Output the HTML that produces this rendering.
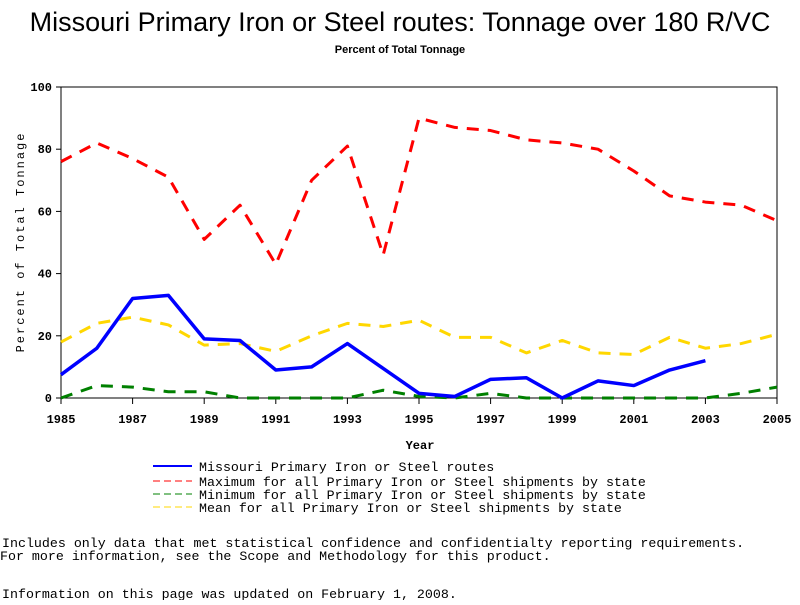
<!DOCTYPE html>
<html><head><meta charset="utf-8"><style>
body{margin:0;background:#fff;width:800px;height:600px;overflow:hidden}
svg text{font-family:"Liberation Mono",monospace}
</style></head><body>
<svg id="c" width="800" height="600" xmlns="http://www.w3.org/2000/svg">
<text x="400" y="31" text-anchor="middle" font-size="27" style="font-family:'Liberation Sans',sans-serif">Missouri Primary Iron or Steel routes: Tonnage over 180 R/VC</text>
<text x="400" y="53" text-anchor="middle" font-size="11" font-weight="bold" style="font-family:'Liberation Sans',sans-serif">Percent of Total Tonnage</text>
<rect x="61" y="87" width="716" height="311" fill="none" stroke="#000"/>
<g id="axes"></g>
<g id="series"></g>
<text x="420" y="449" text-anchor="middle" font-size="12" font-weight="bold">Year</text>
<text transform="translate(24,242) rotate(-90)" text-anchor="middle" font-size="12" letter-spacing="2">Percent of Total Tonnage</text>
<g font-size="13.3">
<g><line x1="153" y1="466" x2="192" y2="466" stroke="#0000ff" stroke-width="2"/><text x="199" y="471">Missouri Primary Iron or Steel routes</text></g>
<g><line x1="153" y1="481" x2="192" y2="481" stroke="#ff0000" stroke-dasharray="7,4"/><text x="199" y="486">Maximum for all Primary Iron or Steel shipments by state</text></g>
<g><line x1="153" y1="494" x2="192" y2="494" stroke="#008000" stroke-dasharray="7,4"/><text x="199" y="499">Minimum for all Primary Iron or Steel shipments by state</text></g>
<g><line x1="153" y1="507" x2="192" y2="507" stroke="#ffd700" stroke-dasharray="7,4"/><text x="199" y="512">Mean for all Primary Iron or Steel shipments by state</text></g>
<text x="2" y="547">Includes only data that met statistical confidence and confidentialty reporting requirements.</text>
<text x="0" y="560">For more information, see the Scope and Methodology for this product.</text>
<text x="2" y="598">Information on this page was updated on February 1, 2008.</text>
</g>
</svg>
<script>
const years=[1985,1986,1987,1988,1989,1990,1991,1992,1993,1994,1995,1996,1997,1998,1999,2000,2001,2002,2003,2004,2005];
const maxVals=[76,82,77,71,51,62,43,70,81,46,90,87,86,83,82,80,73,65,63,62,57];
const meanVals=[18,24,26,23.5,17,17.5,15,20,24,23,25,19.5,19.5,14.5,18.5,14.5,14,19.5,16,17.5,20.5];
const minVals=[0,4,3.5,2,2,0,0,0,0,2.5,0.5,0,1.5,0,0,0,0,0,0,1.5,3.5];
const moVals=[7.5,16,32,33,19,18.5,9,10,17.5,9.5,1.5,0.5,6,6.5,0,5.5,4,9,12,null,null];
const yTicks=[0,20,40,60,80,100];
const xTicks=[1985,1987,1989,1991,1993,1995,1997,1999,2001,2003,2005];
const NS="http://www.w3.org/2000/svg";
const X=y=>61+(y-1985)*716/20, Y=v=>398-v*3.11;
const ax=document.getElementById('axes'), sg=document.getElementById('series');
function mk(t,a,p){const e=document.createElementNS(NS,t);for(const k in a)e.setAttribute(k,a[k]);p.appendChild(e);return e;}
yTicks.forEach(v=>{
  const l=mk('line',{x1:56,x2:61,y1:Y(v),y2:Y(v),stroke:'#000'},ax);
  
  
  const t=mk('text',{x:52,y:Y(v)+4,'text-anchor':'end','font-size':12,'font-weight':'bold'},ax);t.textContent=v;
  
  
});
xTicks.forEach(v=>{
  const l=mk('line',{x1:X(v),x2:X(v),y1:398,y2:404,stroke:'#000'},ax);
  
  
  const t=mk('text',{x:X(v),y:423,'text-anchor':'middle','font-size':12,'font-weight':'bold'},ax);t.textContent=v;
  
  
});
function line(vals,color,w,dash,name){
  const pts=[];vals.forEach((v,i)=>{if(v!==null)pts.push(X(years[i])+','+Y(v));});
  const p=mk('polyline',{points:pts.join(' '),fill:'none',stroke:color,'stroke-width':w,'stroke-linejoin':'round'},sg);
  if(dash)p.setAttribute('stroke-dasharray',dash);
  
  
}
line(minVals,'#008000',3,'12,9','minimum-line');
line(meanVals,'#ffd700',3,'12,9','mean-line');
line(maxVals,'#ff0000',3,'12,9','maximum-line');
line(moVals,'#0000ff',3.5,null,'missouri-line');
</script>
</body></html>
